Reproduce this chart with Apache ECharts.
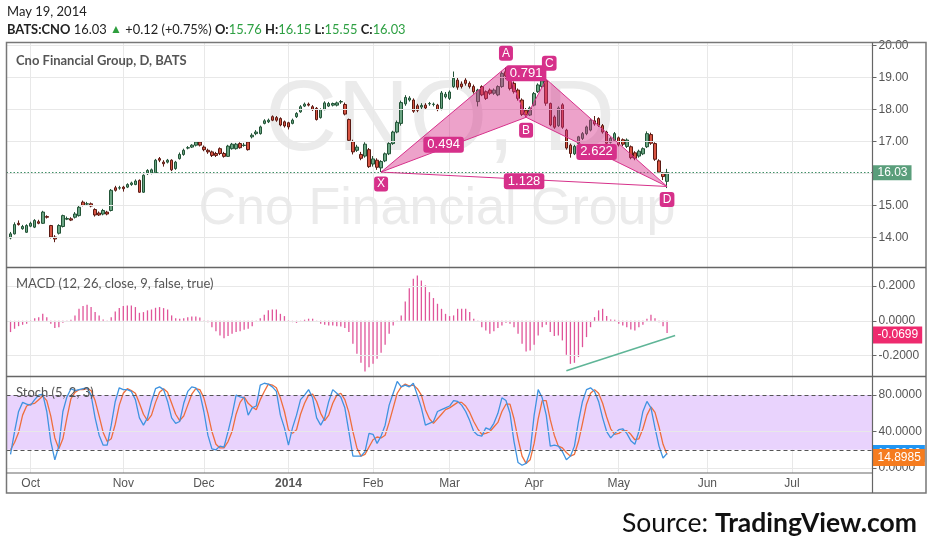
<!DOCTYPE html>
<html><head><meta charset="utf-8">
<script src="https://cdn.jsdelivr.net/npm/echarts/dist/echarts.min.js"></script>
<style>html,body{margin:0;padding:0;background:#fff}#c{width:932px;height:550px}</style>
</head><body><div id="c"></div>
<script>
// ---------- DATA ----------
const holidays = ['2013-11-28','2013-12-25','2014-01-01','2014-01-20','2014-02-17','2014-04-18'];
const firstDay = '2013-09-23';
const totalSlots = 216;
const monthNames = ['Jan','Feb','Mar','Apr','May','Jun','Jul','Aug','Sep','Oct','Nov','Dec'];

// daily candles 2013-09-24 .. 2014-05-19
const open = [13.99,14.12,14.45,14.28,14.17,14.36,14.33,14.50,14.45,14.66,14.38,14.02,14.14,14.35,14.58,14.59,14.64,14.69,15.11,15.05,
15.06,14.88,14.77,14.74,14.80,14.85,15.56,15.55,15.58,15.58,15.66,15.66,15.79,15.42,16.00,16.02,16.02,16.47,16.36,16.36,
16.42,16.16,16.47,16.60,16.80,16.83,16.89,16.99,16.83,16.73,16.68,16.63,16.78,16.63,16.54,16.78,16.78,16.94,16.88,16.99,
17.15,17.25,17.25,17.57,17.62,17.78,17.75,17.72,17.62,17.59,17.57,17.78,17.93,18.11,18.17,18.09,18.04,17.75,18.00,18.11,
18.14,18.14,18.24,18.16,17.69,17.00,16.73,16.60,16.55,16.75,16.30,16.42,16.18,16.40,16.62,16.94,17.30,17.57,18.18,18.30,
18.30,18.12,18.08,18.14,18.18,18.16,18.14,18.04,18.40,18.35,18.72,18.92,18.80,18.92,18.82,18.72,18.25,18.72,18.56,18.61,
18.51,18.46,18.72,19.18,19.03,18.82,18.61,18.30,17.98,17.83,18.14,18.56,18.72,18.90,18.19,17.77,17.50,18.15,17.36,16.89,
16.62,16.94,17.10,17.25,17.36,17.65,17.72,17.50,17.30,16.98,17.04,17.12,17.06,16.85,16.84,16.65,16.55,16.62,16.84,17.22,
16.94,16.40,16.02,15.76];
const close = [14.12,14.41,14.41,14.35,14.38,14.45,14.54,14.45,14.80,14.64,14.02,13.96,14.38,14.69,14.60,14.55,14.74,14.95,15.01,15.06,
14.99,14.71,14.71,14.85,14.74,15.48,15.48,15.56,15.53,15.66,15.71,15.77,15.42,15.95,16.10,16.12,16.42,16.42,16.31,16.42,
16.12,16.36,16.60,16.73,16.81,16.89,16.99,16.89,16.75,16.68,16.57,16.57,16.63,16.54,16.86,16.92,16.92,16.81,16.89,16.75,
17.20,17.30,17.46,17.65,17.67,17.67,17.67,17.52,17.49,17.46,17.67,17.88,18.09,18.17,18.14,18.00,17.69,18.00,18.21,18.19,
18.19,18.21,18.25,17.86,17.04,16.68,16.83,16.48,16.92,16.22,16.46,16.20,16.38,16.62,16.94,17.30,17.60,18.22,18.38,18.36,
17.95,17.98,18.13,18.05,18.19,18.17,18.00,18.52,18.48,18.55,18.98,18.70,18.72,18.82,18.72,18.56,18.61,18.46,18.35,18.51,
18.61,18.72,19.13,19.05,18.66,18.56,18.35,17.85,17.83,18.05,18.50,18.77,18.90,18.20,17.52,17.45,18.05,17.45,16.80,16.63,
16.85,17.15,17.25,17.46,17.67,17.55,17.51,17.30,16.95,17.10,17.25,16.90,16.92,17.05,16.50,16.48,16.70,16.78,17.25,16.95,
16.45,16.05,15.91,16.03];
const high = [14.18,14.48,14.54,14.40,14.42,14.50,14.58,14.56,14.84,14.70,14.40,14.08,14.42,14.72,14.66,14.64,14.80,15.00,15.16,15.12,
15.10,14.92,14.82,14.90,14.84,15.52,15.62,15.62,15.62,15.70,15.75,15.82,15.82,15.98,16.14,16.16,16.46,16.52,16.42,16.46,
16.45,16.40,16.66,16.78,16.86,16.92,17.02,17.02,16.88,16.78,16.72,16.68,16.82,16.68,16.90,16.96,16.96,16.98,16.96,17.02,
17.26,17.36,17.50,17.70,17.72,17.82,17.80,17.76,17.66,17.62,17.72,17.92,18.14,18.22,18.22,18.14,18.08,18.04,18.26,18.24,
18.22,18.25,18.30,18.22,17.72,17.06,16.90,16.68,16.98,16.80,16.55,16.48,16.42,16.66,16.98,17.34,17.66,18.28,18.45,18.42,
18.35,18.18,18.20,18.20,18.24,18.22,18.18,18.58,18.55,18.60,19.19,19.00,18.88,18.98,18.88,18.78,18.65,18.76,18.60,18.66,
18.66,18.76,19.20,19.32,19.08,18.88,18.66,18.35,18.05,18.10,18.55,18.82,18.95,18.94,18.22,17.82,18.10,18.20,17.40,16.94,
16.90,17.18,17.30,17.50,17.70,17.80,17.76,17.55,17.34,17.15,17.30,17.16,17.10,17.10,16.88,16.70,16.75,16.82,17.32,17.28,
16.98,16.45,16.05,16.15];
const low = [13.95,14.10,14.38,14.25,14.15,14.33,14.30,14.42,14.43,14.60,13.98,13.86,14.10,14.32,14.55,14.52,14.60,14.66,14.98,15.00,
14.95,14.66,14.68,14.70,14.70,14.82,15.44,15.50,15.44,15.55,15.62,15.64,15.40,15.40,15.96,15.98,16.00,16.36,16.22,16.32,
16.08,16.12,16.44,16.56,16.76,16.80,16.85,16.85,16.70,16.62,16.52,16.52,16.58,16.50,16.52,16.75,16.75,16.78,16.84,16.72,
17.10,17.20,17.22,17.54,17.58,17.64,17.62,17.48,17.44,17.38,17.54,17.74,17.90,18.08,18.10,17.96,17.66,17.72,17.98,18.08,
18.10,18.10,18.18,17.82,17.00,16.60,16.68,16.42,16.50,16.18,16.22,16.12,16.05,16.36,16.58,16.90,17.26,17.50,18.12,18.25,
17.90,17.92,18.02,18.00,18.12,18.10,17.95,17.98,18.35,18.30,18.68,18.62,18.66,18.75,18.66,18.50,18.10,18.42,18.30,18.46,
18.46,18.42,18.68,18.95,18.60,18.50,18.28,17.80,17.76,17.80,18.10,18.52,18.68,18.12,17.48,17.40,17.46,17.40,16.75,16.50,
16.58,16.90,17.05,17.20,17.32,17.50,17.46,17.25,16.90,16.94,17.00,16.85,16.86,16.80,16.45,16.42,16.50,16.58,16.80,16.90,
16.40,16.00,15.80,15.55];

// MACD histogram
const macdHist = [-0.065,-0.046,-0.031,-0.023,-0.017,-0.004,0.015,0.021,0.040,0.021,-0.017,-0.042,-0.037,-0.012,0.002,0.006,0.031,0.069,0.085,0.092,
0.079,0.050,0.031,0.008,-0.004,0.021,0.054,0.073,0.085,0.088,0.088,0.079,0.046,0.050,0.060,0.065,0.075,0.079,0.073,0.065,
0.031,0.015,0.012,0.015,0.021,0.025,0.025,0.019,-0.004,-0.008,-0.037,-0.061,-0.085,-0.100,-0.088,-0.075,-0.065,-0.060,-0.052,-0.046,
-0.031,-0.004,0.015,0.035,0.060,0.065,0.065,0.040,0.027,0.002,-0.008,-0.012,-0.004,0.006,0.012,0.012,-0.004,-0.017,-0.023,-0.027,
-0.027,-0.031,-0.033,-0.042,-0.065,-0.133,-0.190,-0.242,-0.292,-0.267,-0.248,-0.219,-0.184,-0.138,-0.075,-0.027,0.002,0.031,0.111,0.188,
0.242,0.261,0.232,0.204,0.165,0.131,0.098,0.069,0.040,0.027,0.031,0.069,0.069,0.069,0.050,0.012,-0.004,-0.037,-0.056,-0.075,
-0.061,-0.042,-0.027,-0.012,-0.017,-0.037,-0.075,-0.133,-0.177,-0.171,-0.138,-0.085,-0.037,-0.023,-0.065,-0.088,-0.085,-0.113,-0.196,-0.248,
-0.242,-0.209,-0.152,-0.094,-0.037,0.021,0.060,0.069,0.027,0.008,0.006,-0.017,-0.027,-0.037,-0.050,-0.056,-0.037,-0.023,0.012,0.035,
0.015,-0.008,-0.031,-0.0699];

// Stochastic %K and %D
const stochK = [15,40,62,72,70,69,75,80,81,62,29,9,24,62,78,87,85,86,87,88,
80,55,36,25,25,47,73,88,86,86,84,75,55,47,55,73,87,89,86,73,
55,49,51,71,84,89,88,82,62,36,21,20,24,23,40,58,80,78,77,58,
66,68,91,93,92,89,84,58,44,25,44,58,75,80,86,77,55,47,55,73,
86,82,78,66,40,13,13,13,18,38,37,27,35,47,69,82,95,89,91,89,
93,80,66,47,49,51,62,64,66,68,74,73,69,62,52,40,36,35,44,42,
49,60,77,74,60,29,6,3,5,18,58,86,77,58,24,25,24,18,9,13,
24,51,73,86,88,84,73,55,40,33,38,42,43,38,30,26,40,62,73,66,
44,24,11,16];
const stochD = [20,28,39,58,68,70,71,75,79,74,57,33,21,32,55,76,83,86,86,87,
85,74,57,39,29,32,48,69,82,87,85,82,71,59,52,58,72,83,87,83,
71,59,52,57,69,81,87,86,77,60,40,26,22,22,29,40,59,72,78,71,
67,64,75,84,92,91,88,77,62,42,38,42,59,71,80,81,73,60,52,58,
71,80,82,75,61,40,22,13,15,23,31,34,33,36,50,66,82,89,92,90,
91,87,80,64,54,49,54,59,64,66,69,72,72,68,61,51,43,37,38,40,
45,50,62,70,70,54,32,13,5,9,27,54,74,74,53,36,24,22,17,13,
15,29,49,70,82,86,82,71,56,43,37,38,41,41,37,31,32,43,58,67,
61,45,26,14.8985];

const priceTicks = [14,15,16,17,18,19,20];
const macdTicks = [-0.2,0,0.2];
const stochTicks = [0,40,80];
const stochBand = [20,80];

const lastPrice = 16.03;
const lastMacd = -0.0699;
const lastK = 16;
const lastD = 14.8985;

// XABCD harmonic pattern
const patternNames = ['X','A','B','C','D'];
const patternDates = ['2014-02-05','2014-03-21','2014-03-28','2014-04-04','2014-05-19'];
const patternPrices = [16.05,19.32,17.76,18.95,15.60];
const patternRatios = ['0.494','0.791','2.622','1.128'];

// MACD trend line
const trendDates = ['2014-04-11','2014-05-21'];
const trendValues = [-0.288,-0.085];

// ---------- CATEGORIES (trading days, then future weekdays) ----------
const dates = [];
{
  let t = Date.parse(firstDay + 'T00:00:00Z');
  while (dates.length < totalSlots) {
    const d = new Date(t);
    const wd = d.getUTCDay();
    const s = d.toISOString().slice(0,10);
    if (wd !== 0 && wd !== 6 && holidays.indexOf(s) < 0) dates.push(s);
    t += 86400000;
  }
}
const isMonthStart = (idx) => idx > 0 && dates[idx].slice(0,7) !== dates[idx-1].slice(0,7);
const pad = (arr) => dates.map((_, k) => (k >= 1 && k <= arr.length) ? arr[k-1] : '-');

const candleData = dates.map((_, k) => (k >= 1 && k <= open.length)
  ? [open[k-1], close[k-1], low[k-1], high[k-1]] : '-');

const AX = 'Liberation Sans, Arial, sans-serif';
const UI = 'Lato, sans-serif';
const gridLineColor = '#e8e8e8';
const clear = 'rgba(0,0,0,0)';

function xAxis(gi, showLabels) {
  return {
    type: 'category', gridIndex: gi, data: dates, boundaryGap: false,
    axisLine: { show: false }, axisTick: { show: false },
    axisLabel: showLabels ? {
      show: true, interval: (i) => isMonthStart(i), margin: 5,
      color: '#555', fontFamily: AX, fontSize: 12,
      formatter: (v) => { const m = +v.slice(5,7); return m === 1 ? '{y|' + v.slice(0,4) + '}' : monthNames[m-1]; },
      rich: { y: { fontWeight: 'bold', color: '#555', fontFamily: AX, fontSize: 12 } }
    } : { show: false },
    splitLine: { show: true, interval: (i) => isMonthStart(i), lineStyle: { color: gridLineColor, width: 1 } }
  };
}
function yAxis(gi, min, max, ticks, digits) {
  return {
    type: 'value', gridIndex: gi, position: 'right', min: min, max: max, scale: true,
    splitLine: { show: false }, axisLine: { show: false },
    axisTick: { show: true, length: 4, lineStyle: { color: '#666' }, customValues: ticks },
    axisLabel: { show: true, customValues: ticks, margin: 6, color: '#555', fontFamily: AX, fontSize: 12,
      formatter: (v) => (+v).toFixed(digits) }
  };
}
const gl = (v) => ({ yAxis: v, lineStyle: { color: gridLineColor, width: 1, type: 'solid' }, label: { show: false } });
const valueTag = (v, text, bg, off) => ({
  yAxis: v, lineStyle: { color: clear, width: 0 },
  label: { show: true, position: 'end', distance: 0, formatter: text, color: '#fff',
    backgroundColor: bg, padding: [3, 4, 2, 5], fontFamily: AX, fontSize: 12, offset: off }
});

const chart = echarts.init(document.getElementById('c'));
const L = 6.5, R = 932 - 872.5;
chart.setOption({
  animation: false,
  grid: [
    { left: L, right: R, top: 43, height: 224.5 },
    { left: L, right: R, top: 267.5, height: 109 },
    { left: L, right: R, top: 376.5, height: 96.5 }
  ],
  xAxis: [xAxis(0, false), xAxis(1, false), xAxis(2, true)],
  yAxis: [
    yAxis(0, 13.07, 20.08, priceTicks, 2),
    yAxis(1, -0.321, 0.307, macdTicks, 4),
    yAxis(2, -5.5, 100.4, stochTicks, 4)
  ],
  series: [
    {
      type: 'candlestick', xAxisIndex: 0, yAxisIndex: 0, data: candleData, barWidth: 3, z: 2,
      itemStyle: { color: '#6ba583', color0: '#d75442', borderColor: '#225437', borderColor0: '#5b1a13', borderWidth: 1 },
      markLine: {
        silent: true, symbol: 'none', animation: false,
        data: priceTicks.map(gl).concat([{
          yAxis: lastPrice,
          lineStyle: { color: '#3f8f66', type: [1.5, 2], width: 1 },
          label: { show: true, position: 'end', distance: 0, formatter: lastPrice.toFixed(2), color: '#fff',
            backgroundColor: '#5a9e7b', padding: [2, 4, 1, 5], fontFamily: AX, fontSize: 12 }
        }])
      }
    },
    {
      type: 'custom', xAxisIndex: 0, yAxisIndex: 0, z: 5, clip: false, silent: true,
      data: [[0, 0]],
      renderItem: (params, api) => {
        const P = patternDates.map((d, j) => api.coord([dates.indexOf(d), patternPrices[j]]));
        const [X, A, B, C, D] = P;
        const mid = (p, q) => [(p[0] + q[0]) / 2, (p[1] + q[1]) / 2];
        const fill = 'rgba(214,48,138,0.45)', stroke = '#d6308a';
        const lbl = (t, p, dx, dy, fs, pd) => ({
          type: 'text', x: p[0] + dx, y: p[1] + dy, z2: 10,
          style: { text: t, fill: '#fff', font: fs + 'px ' + AX, align: 'center', verticalAlign: 'middle',
            backgroundColor: stroke, padding: pd, borderRadius: 3 }
        });
        const ch = [
          { type: 'polygon', shape: { points: [X, A, B] }, style: { fill: fill, stroke: stroke, lineWidth: 1 } },
          { type: 'polygon', shape: { points: [B, C, D] }, style: { fill: fill, stroke: stroke, lineWidth: 1 } },
          { type: 'line', shape: { x1: X[0], y1: X[1], x2: D[0], y2: D[1] }, style: { stroke: stroke, lineWidth: 1 } },
          { type: 'line', shape: { x1: A[0], y1: A[1], x2: C[0], y2: C[1] }, style: { stroke: stroke, lineWidth: 1, lineDash: [3, 3] } }
        ];
        const mids = [mid(X, B), mid(A, C), mid(B, D), mid(X, D)];
        mids.forEach((m, j) => ch.push(lbl(patternRatios[j], m, j === 0 ? -10 : 0, j === 3 ? 2 : 0, 13, [2, 4, 1, 4])));
        const offs = [[0, 12], [0, -14], [0, 13], [3, -16], [0, 13]];
        P.forEach((p, j) => ch.push(lbl(patternNames[j], p, offs[j][0], offs[j][1], 12, [2, 3, 1, 3])));
        return { type: 'group', children: ch };
      }
    },
    {
      type: 'bar', xAxisIndex: 1, yAxisIndex: 1, data: pad(macdHist), barWidth: 1.3,
      itemStyle: { color: '#e0559a' },
      markLine: {
        silent: true, symbol: 'none', animation: false,
        data: macdTicks.map(gl).concat([
          valueTag(lastMacd, lastMacd.toFixed(4), '#ee2a6e', [0, 2]),
          [ { coord: [dates.indexOf(trendDates[0]), trendValues[0]], lineStyle: { color: '#5fb597', width: 1.5, type: 'solid' }, label: { show: false } },
            { coord: [dates.indexOf(trendDates[1]), trendValues[1]] } ]
        ])
      }
    },
    {
      type: 'line', xAxisIndex: 2, yAxisIndex: 2, data: pad(stochK), symbol: 'none', z: 4,
      lineStyle: { color: '#3f93e0', width: 1.3 },
      markArea: {
        silent: true,
        data: [[{ yAxis: stochBand[0], itemStyle: { color: '#e9d3fd' } }, { yAxis: stochBand[1] }]]
      },
      markLine: {
        silent: true, symbol: 'none', animation: false,
        data: [gl(0), gl(40)].concat(stochBand.map(v => ({ yAxis: v, lineStyle: { color: '#555', type: [4, 3], width: 1 }, label: { show: false } })))
          .concat([
            valueTag(lastK, lastK.toFixed(4), '#2196f3', [0, 0]),
            valueTag(lastD, lastD.toFixed(4), '#f57c1f', [0, 3])
          ])
      }
    },
    {
      type: 'line', xAxisIndex: 2, yAxisIndex: 2, data: pad(stochD), symbol: 'none', z: 3,
      lineStyle: { color: '#ee6e3c', width: 1.3 }
    }
  ],
  graphic: [
    // watermarks
    { type: 'text', x: 440, y: 122, z: -1, silent: true,
      style: { text: 'CNO, D', font: '100px ' + AX, fill: '#ebebeb', align: 'center', verticalAlign: 'middle' } },
    { type: 'text', x: 437, y: 210, z: -1, silent: true,
      style: { text: 'Cno Financial Group', font: '52px ' + AX, fill: '#ebebeb', align: 'center', verticalAlign: 'middle' } },
    // header
    { type: 'text', x: 7, y: 12, style: { text: 'May 19, 2014', font: '13px ' + UI, fill: '#222', verticalAlign: 'middle' } },
    { type: 'text', x: 7, y: 30, style: {
        text: '{b|BATS:CNO} {n|16.03} {g|▲} {n|+0.12 (+0.75%)} {b|O:}{v|15.76} {b|H:}{v|16.15} {b|L:}{v|15.55} {b|C:}{v|16.03}',
        verticalAlign: 'middle',
        rich: {
          b: { font: 'bold 12.9px ' + UI, fill: '#222' },
          n: { font: '12.9px ' + UI, fill: '#222' },
          g: { font: '12px ' + AX, fill: '#2e9e3e' },
          v: { font: '12.9px ' + UI, fill: '#2ea043' }
        } } },
    { type: 'text', x: 16, y: 61, z: 50, style: { text: 'Cno Financial Group, D, BATS', font: 'bold 13px ' + UI, fill: '#555', verticalAlign: 'middle' } },
    { type: 'text', x: 16, y: 284, z: 50, style: { text: 'MACD (12, 26, close, 9, false, true)', font: '13px ' + UI, fill: '#555', verticalAlign: 'middle' } },
    { type: 'text', x: 16, y: 393, z: 50, style: { text: 'Stoch (5, 2, 3)', font: '13px ' + UI, fill: '#555', verticalAlign: 'middle' } },
    // frame
    { type: 'rect', z: 100, silent: true, shape: { x: 6.5, y: 42.5, width: 919.5, height: 450.5 }, style: { fill: 'none', stroke: '#777', lineWidth: 1.5 } },
    { type: 'line', z: 100, silent: true, shape: { x1: 872.5, y1: 42.5, x2: 872.5, y2: 493 }, style: { stroke: '#666', lineWidth: 1.2 } },
    { type: 'line', z: 100, silent: true, shape: { x1: 6.5, y1: 267.5, x2: 926, y2: 267.5 }, style: { stroke: '#666', lineWidth: 1.5 } },
    { type: 'line', z: 100, silent: true, shape: { x1: 6.5, y1: 376.5, x2: 926, y2: 376.5 }, style: { stroke: '#666', lineWidth: 1.5 } },
    { type: 'line', z: 100, silent: true, shape: { x1: 6.5, y1: 473, x2: 872.5, y2: 473 }, style: { stroke: '#666', lineWidth: 1.2 } },
    // source
    { type: 'text', x: 917, y: 523, style: {
        text: '{n|Source: }{b|TradingView.com}', align: 'right', verticalAlign: 'middle',
        rich: { n: { font: '26.5px ' + UI, fill: '#111' }, b: { font: 'bold 26.5px ' + UI, fill: '#111' } } } }
  ]
});
</script>
</body></html>
